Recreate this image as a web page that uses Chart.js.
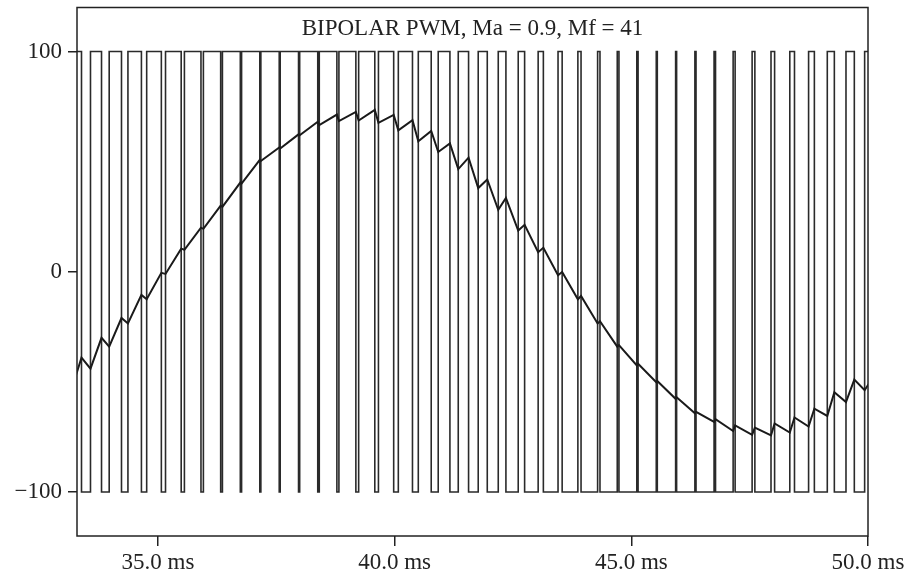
<!DOCTYPE html>
<html>
<head>
<meta charset="utf-8">
<script src="https://cdn.jsdelivr.net/npm/chart.js@4.4.1/dist/chart.umd.min.js"></script>
<style>
  html, body { margin: 0; padding: 0; background: #ffffff; }
  #wrap { width: 924px; height: 576px; position: relative; }
</style>
</head>
<body>
<div id="wrap"><canvas id="c" width="924" height="576"></canvas></div>
<script>
// ---- data ----
const chartTitle = 'BIPOLAR PWM, Ma = 0.9, Mf = 41';
const xRange = [33.29, 50.0];            // ms
const yRange = [-120, 120];
const xTickValues = [35, 40, 45, 50];
const xTickLabels = ['35.0 ms', '40.0 ms', '45.0 ms', '50.0 ms'];
const yTickValues = [-100, 0, 100];
const yTickLabels = ['\u2212100', '0', '100'];
const pwmLevels = [-100, 100];

// PWM rising edges (low -> high), ms
const pwmRise = [33.181, 33.575, 33.970, 34.366, 34.762, 35.160, 35.559, 35.960, 36.362, 36.767,
  37.174, 37.583, 37.994, 38.408, 38.823, 39.240, 39.658, 40.078, 40.500, 40.921,
  41.344, 41.766, 42.189, 42.611, 43.032, 43.452, 43.871, 44.288, 44.703, 45.116,
  45.527, 45.936, 46.343, 46.748, 47.151, 47.552, 47.951, 48.348, 48.745, 49.140,
  49.535, 49.929];
// PWM falling edges (high -> low), ms
const pwmFall = [33.385, 33.808, 34.230, 34.651, 35.072, 35.491, 35.909, 36.325, 36.740, 37.152,
  37.562, 37.970, 38.376, 38.780, 39.181, 39.581, 39.980, 40.377, 40.773, 41.168,
  41.562, 41.957, 42.351, 42.746, 43.142, 43.539, 43.938, 44.338, 44.739, 45.143,
  45.549, 45.957, 46.367, 46.779, 47.193, 47.610, 48.027, 48.447, 48.867, 49.289,
  49.711, 50.134];
// second trace value at each rising edge
const traceAtRise = [-53, -44, -34, -23.5, -12.5, -1, 10, 19.5, 29.5, 40,
  50.3, 56, 62, 66.6, 68.4, 68.7, 67.6, 64.2, 59.2, 54.4,
  46.6, 38, 28.1, 18.7, 8.9, -1.6, -12.5, -23.5, -34, -42.5,
  -50.2, -57.7, -64.3, -68.2, -72.3, -74.1, -74.3, -73, -70.3, -65.5,
  -59.2, -53.8];
// second trace value at each falling edge
const traceAtFall = [-39, -30, -21, -10.5, -0.5, 10.5, 20, 30, 40.5, 50.8,
  56.4, 62.4, 68.1, 71.4, 72.6, 73.5, 71.2, 68.8, 63.9, 58.3,
  51.8, 41.9, 33.5, 21.3, 10.9, -0.1, -11, -22.5, -33.3, -41.8,
  -49.6, -57, -63.6, -67, -69.8, -70.8, -68.9, -66.2, -62.2, -54.7,
  -49, -47];

// ---- build library datasets from the arrays ----
const pwmPoints = [];
const tracePoints = [];
for (let k = 0; k < pwmRise.length; k++) {
  pwmPoints.push({x: pwmRise[k], y: pwmLevels[0]});
  pwmPoints.push({x: pwmRise[k], y: pwmLevels[1]});
  pwmPoints.push({x: pwmFall[k], y: pwmLevels[1]});
  pwmPoints.push({x: pwmFall[k], y: pwmLevels[0]});
  tracePoints.push({x: pwmRise[k], y: traceAtRise[k]});
  tracePoints.push({x: pwmFall[k], y: traceAtFall[k]});
}

const FONT = '"Liberation Serif", "Times New Roman", serif';
const INK = '#222222';

const framePlugin = {
  id: 'frame',
  afterDraw(chart) {
    const {ctx, chartArea: a} = chart;
    ctx.save();
    ctx.strokeStyle = INK;
    ctx.lineWidth = 1.5;
    ctx.strokeRect(a.left, a.top, a.right - a.left, a.bottom - a.top);
    ctx.fillStyle = INK;
    ctx.font = '23px ' + FONT;
    ctx.textAlign = 'center';
    ctx.textBaseline = 'alphabetic';
    ctx.fillText(chartTitle, (a.left + a.right) / 2, a.top + 27.5);
    ctx.restore();
  }
};

new Chart(document.getElementById('c'), {
  type: 'line',
  data: {
    datasets: [
      { data: tracePoints, borderColor: '#1a1a1a', borderWidth: 2, pointRadius: 0, tension: 0, order: 0 },
      { data: pwmPoints, borderColor: '#2a2a2a', borderWidth: 1.6, pointRadius: 0, tension: 0, order: 1 }
    ]
  },
  options: {
    responsive: false,
    animation: false,
    parsing: false,
    normalized: true,
    layout: { padding: { top: 7.5, right: 56, left: 0, bottom: 0 } },
    plugins: { legend: { display: false }, tooltip: { enabled: false }, title: { display: false } },
    scales: {
      x: {
        type: 'linear',
        min: xRange[0], max: xRange[1],
        afterBuildTicks(s) { s.ticks = xTickValues.map(v => ({value: v})); },
        afterFit(s) { s.height = 40; s.paddingLeft = 0; s.paddingRight = 0; },
        ticks: {
          autoSkip: false, maxRotation: 0, padding: 3, color: INK,
          font: { family: FONT, size: 23 },
          callback(v) { const i = xTickValues.indexOf(v); return i >= 0 ? xTickLabels[i] : ''; }
        },
        grid: { drawOnChartArea: false, drawTicks: true, tickLength: 10, color: INK, lineWidth: 1.5 },
        border: { display: false }
      },
      y: {
        type: 'linear',
        min: yRange[0], max: yRange[1],
        afterBuildTicks(s) { s.ticks = yTickValues.map(v => ({value: v})); },
        afterFit(s) { s.width = 77; s.paddingTop = 0; s.paddingBottom = 0; },
        ticks: {
          autoSkip: false, padding: 6, color: INK,
          font: { family: FONT, size: 23 },
          callback(v) { const i = yTickValues.indexOf(v); return i >= 0 ? yTickLabels[i] : ''; }
        },
        grid: { drawOnChartArea: false, drawTicks: true, tickLength: 9, color: INK, lineWidth: 1.5 },
        border: { display: false }
      }
    }
  },
  plugins: [framePlugin]
});
</script>
</body>
</html>
